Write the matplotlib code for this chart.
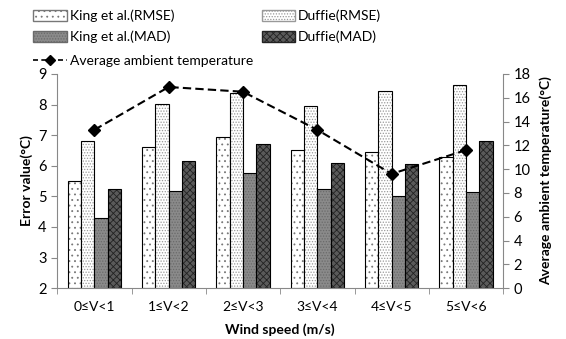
import numpy as np
import matplotlib.pyplot as plt
from matplotlib.patches import Patch
from matplotlib.lines import Line2D

plt.rcParams['font.family'] = ['Lato', 'DejaVu Sans']
plt.rcParams['hatch.linewidth'] = 0.6

categories = ["0≤V<1", "1≤V<2", "2≤V<3", "3≤V<4", "4≤V<5", "5≤V<6"]
king_rmse = [5.5, 6.6, 6.93, 6.5, 6.45, 6.3]
duffie_rmse = [6.8, 8.03, 8.37, 7.95, 8.43, 8.65]
king_mad = [4.3, 5.18, 5.77, 5.23, 5.0, 5.15]
duffie_mad = [5.25, 6.15, 6.7, 6.1, 6.05, 6.8]
avg_temp = [13.3, 16.9, 16.5, 13.3, 9.6, 11.6]

fig = plt.figure(figsize=(5.66, 3.39), dpi=100)
ax = fig.add_axes([0.101, 0.150, 0.788, 0.632])

x = np.arange(len(categories))
w = 0.18
styles = [
    ("King et al.(RMSE)", king_rmse, "white", "...", "#777777"),
    ("Duffie(RMSE)", duffie_rmse, "white", "......", "#999999"),
    ("King et al.(MAD)", king_mad, "#8a8a8a", "......", "#6a6a6a"),
    ("Duffie(MAD)", duffie_mad, "#5a5a5a", "xxxxx", "#222222"),
]
handles = []
for i, (name, vals, fc, hatch, hc) in enumerate(styles):
    ax.bar(x + (i - 1.5) * w, np.array(vals) - 2, w, bottom=2,
           facecolor=fc, hatch=hatch, edgecolor=hc, linewidth=0)
    ax.bar(x + (i - 1.5) * w, np.array(vals) - 2, w, bottom=2,
           facecolor="none", edgecolor="black", linewidth=0.8)
    handles.append(Patch(facecolor=fc, hatch=hatch, edgecolor=hc, label=name))

ax.set_ylim(2, 9)
ax.set_xlim(-0.5, len(categories) - 0.5)
ax.set_xticks(x)
ax.set_xticklabels(categories, fontsize=10)
ax.set_xticks(np.arange(-0.5, len(categories)), minor=True)
ax.tick_params(axis="x", which="major", length=0, pad=9)
ax.tick_params(axis="x", which="minor", length=4, color="#888888")
ax.tick_params(axis="y", labelsize=10.5, color="#888888", length=4)
ax.set_ylabel("Error value(°C)", fontsize=10, fontweight="bold")
ax.set_xlabel("Wind speed (m/s)", fontsize=10, fontweight="bold", labelpad=8)
for s in ["top", "right"]:
    ax.spines[s].set_visible(False)
for s in ["left", "bottom"]:
    ax.spines[s].set_color("#888888")

ax2 = ax.twinx()
ax2.plot(x, avg_temp, linestyle="--", color="black", marker="D",
         markersize=6, linewidth=1.5, dashes=(4, 2))
ax2.set_ylim(0, 18)
ax2.set_yticks(range(0, 19, 2))
ax2.tick_params(axis="y", labelsize=10.5, color="#888888", length=4)
ax2.set_ylabel("Average ambient temperature(°C)", fontsize=10, fontweight="bold",
               labelpad=6)
for s in ["top", "left", "bottom"]:
    ax2.spines[s].set_visible(False)
ax2.spines["right"].set_color("#888888")

temp_handle = Line2D([], [], linestyle="--", color="black", marker="D",
                     markersize=5, linewidth=1.2, dashes=(3, 2),
                     label="Average ambient temperature")
fig.legend(handles=[handles[0], handles[2], handles[1], handles[3]],
           loc="upper left", bbox_to_anchor=(0.037, 1.008),
           ncol=2, frameon=False, fontsize=10, columnspacing=6.3,
           handlelength=2.4, handleheight=0.8, handletextpad=0.2,
           labelspacing=0.6)
fig.legend(handles=[temp_handle], loc="upper left",
           bbox_to_anchor=(0.037, 0.876), frameon=False, fontsize=10,
           handlelength=2.4, handletextpad=0.2)

fig.savefig("out.png", dpi=100)
